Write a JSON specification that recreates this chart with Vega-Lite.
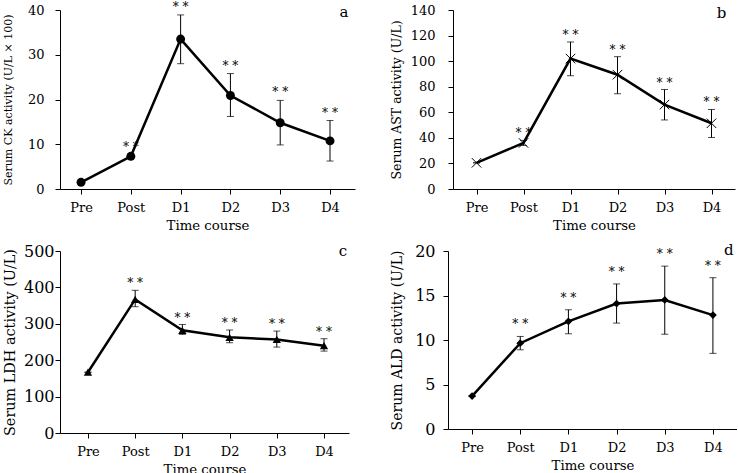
{
  "$schema": "https://vega.github.io/schema/vega-lite/v6.json",
  "background": "white",
  "padding": {"left": 2, "top": 0, "right": 0, "bottom": 0},
  "config": {
    "font": "DejaVu Serif",
    "view": {"stroke": null},
    "axis": {"domainColor": "black", "tickColor": "black", "labelColor": "black", "titleColor": "black", "grid": false, "labelFont": "DejaVu Serif", "titleFont": "DejaVu Serif", "titleFontWeight": "normal", "domainWidth": 1, "tickWidth": 1, "tickSize": 5, "labelOverlap": false},
    "axisX": {"labelAngle": 0, "labelFontSize": 13, "titleFontSize": 13.3, "titlePadding": 4, "labelPadding": 7},
    "text": {"font": "DejaVu Serif", "color": "black"}
  },
  "spacing": {"row": 11, "column": 35},
  "align": "none",
  "columns": 2,
  "concat": [
    {
      "width": 295, "height": 179,
      "data": {"values": [
        {"time": "Pre", "mean": 1.5, "lo": 1.5, "hi": 1.5, "sig": ""},
        {"time": "Post", "mean": 7.3, "lo": 6.9, "hi": 7.7, "sig": "* *"},
        {"time": "D1", "mean": 33.5, "lo": 28.0, "hi": 38.9, "sig": "* *"},
        {"time": "D2", "mean": 20.9, "lo": 16.2, "hi": 25.8, "sig": "* *"},
        {"time": "D3", "mean": 14.8, "lo": 9.85, "hi": 19.8, "sig": "* *"},
        {"time": "D4", "mean": 10.75, "lo": 6.25, "hi": 15.3, "sig": "* *"}
      ]},
      "encoding": {"x": {"field": "time", "type": "ordinal", "sort": ["Pre", "Post", "D1", "D2", "D3", "D4"], "scale": {"type": "point", "padding": 0.462, "align": 0.457}, "title": "Time course"}},
      "layer": [
        {"mark": {"type": "rule", "color": "black", "strokeWidth": 1}, "encoding": {"y": {"field": "lo", "type": "quantitative", "title": "Serum CK activity (U/L × 100)", "scale": {"domain": [0, 40], "nice": false}, "axis": {"values": [0, 10, 20, 30, 40], "format": "d", "tickCount": 50, "labelOverlap": false, "labelFontSize": 13, "labelPadding": 11, "titleFontSize": 11, "titlePadding": 14}}, "y2": {"field": "hi"}}},
        {"mark": {"type": "tick", "color": "black", "thickness": 1, "size": 7, "orient": "horizontal"}, "encoding": {"y": {"field": "hi", "type": "quantitative", "title": "Serum CK activity (U/L × 100)", "axis": {"values": [0, 10, 20, 30, 40], "format": "d", "tickCount": 50, "labelOverlap": false, "labelFontSize": 13, "labelPadding": 11, "titleFontSize": 11, "titlePadding": 14}}}},
        {"mark": {"type": "tick", "color": "black", "thickness": 1, "size": 7, "orient": "horizontal"}, "encoding": {"y": {"field": "lo", "type": "quantitative", "title": "Serum CK activity (U/L × 100)", "axis": {"values": [0, 10, 20, 30, 40], "format": "d", "tickCount": 50, "labelOverlap": false, "labelFontSize": 13, "labelPadding": 11, "titleFontSize": 11, "titlePadding": 14}}}},
        {"mark": {"type": "line", "color": "black", "strokeWidth": 2.5}, "encoding": {"y": {"field": "mean", "type": "quantitative", "title": "Serum CK activity (U/L × 100)", "axis": {"values": [0, 10, 20, 30, 40], "format": "d", "tickCount": 50, "labelOverlap": false, "labelFontSize": 13, "labelPadding": 11, "titleFontSize": 11, "titlePadding": 14}}}},
        {"mark": {"type": "point", "shape": "circle", "filled": true, "color": "black", "opacity": 1, "size": 80}, "encoding": {"y": {"field": "mean", "type": "quantitative", "title": "Serum CK activity (U/L × 100)", "axis": {"values": [0, 10, 20, 30, 40], "format": "d", "tickCount": 50, "labelOverlap": false, "labelFontSize": 13, "labelPadding": 11, "titleFontSize": 11, "titlePadding": 14}}}},
        {"mark": {"type": "text", "fontSize": 12, "dy": -8, "baseline": "middle", "color": "black"}, "encoding": {"y": {"field": "hi", "type": "quantitative", "title": "Serum CK activity (U/L × 100)", "axis": {"values": [0, 10, 20, 30, 40], "format": "d", "tickCount": 50, "labelOverlap": false, "labelFontSize": 13, "labelPadding": 11, "titleFontSize": 11, "titlePadding": 14}}, "text": {"field": "sig"}}},
        {"data": {"values": [{"label": "a"}]}, "mark": {"type": "text", "fontSize": 15, "dx": 14, "dy": 2, "baseline": "middle", "color": "black"}, "encoding": {"x": {"datum": "D4"}, "y": {"datum": 40}, "text": {"field": "label"}}}
      ]
    },
    {
      "width": 282, "height": 179,
      "data": {"values": [
        {"time": "Pre", "mean": 20.5, "lo": 20.5, "hi": 20.5, "sig": ""},
        {"time": "Post", "mean": 36, "lo": 34, "hi": 38, "sig": "* *"},
        {"time": "D1", "mean": 102, "lo": 88.6, "hi": 115, "sig": "* *"},
        {"time": "D2", "mean": 89.4, "lo": 74.5, "hi": 103.5, "sig": "* *"},
        {"time": "D3", "mean": 66, "lo": 54, "hi": 77.8, "sig": "* *"},
        {"time": "D4", "mean": 51.4, "lo": 40.3, "hi": 62.2, "sig": "* *"}
      ]},
      "encoding": {"x": {"field": "time", "type": "ordinal", "sort": ["Pre", "Post", "D1", "D2", "D3", "D4"], "scale": {"type": "point", "padding": 0.5}, "title": "Time course"}},
      "layer": [
        {"mark": {"type": "rule", "color": "black", "strokeWidth": 1}, "encoding": {"y": {"field": "lo", "type": "quantitative", "title": "Serum AST activity (U/L)", "scale": {"domain": [0, 140], "nice": false}, "axis": {"values": [0, 20, 40, 60, 80, 100, 120, 140], "format": "d", "tickCount": 50, "labelOverlap": false, "labelFontSize": 13, "labelPadding": 13, "titleFontSize": 12.5, "titlePadding": 6.7}}, "y2": {"field": "hi"}}},
        {"mark": {"type": "tick", "color": "black", "thickness": 1, "size": 7, "orient": "horizontal"}, "encoding": {"y": {"field": "hi", "type": "quantitative", "title": "Serum AST activity (U/L)", "axis": {"values": [0, 20, 40, 60, 80, 100, 120, 140], "format": "d", "tickCount": 50, "labelOverlap": false, "labelFontSize": 13, "labelPadding": 13, "titleFontSize": 12.5, "titlePadding": 6.7}}}},
        {"mark": {"type": "tick", "color": "black", "thickness": 1, "size": 7, "orient": "horizontal"}, "encoding": {"y": {"field": "lo", "type": "quantitative", "title": "Serum AST activity (U/L)", "axis": {"values": [0, 20, 40, 60, 80, 100, 120, 140], "format": "d", "tickCount": 50, "labelOverlap": false, "labelFontSize": 13, "labelPadding": 13, "titleFontSize": 12.5, "titlePadding": 6.7}}}},
        {"mark": {"type": "line", "color": "black", "strokeWidth": 2.5}, "encoding": {"y": {"field": "mean", "type": "quantitative", "title": "Serum AST activity (U/L)", "axis": {"values": [0, 20, 40, 60, 80, 100, 120, 140], "format": "d", "tickCount": 50, "labelOverlap": false, "labelFontSize": 13, "labelPadding": 13, "titleFontSize": 12.5, "titlePadding": 6.7}}}},
        {"mark": {"type": "point", "shape": "M-1,-1L1,1M1,-1L-1,1", "filled": false, "color": "black", "opacity": 1, "strokeWidth": 1, "size": 90}, "encoding": {"y": {"field": "mean", "type": "quantitative", "title": "Serum AST activity (U/L)", "axis": {"values": [0, 20, 40, 60, 80, 100, 120, 140], "format": "d", "tickCount": 50, "labelOverlap": false, "labelFontSize": 13, "labelPadding": 13, "titleFontSize": 12.5, "titlePadding": 6.7}}}},
        {"mark": {"type": "text", "fontSize": 12, "dy": -7, "baseline": "middle", "color": "black"}, "encoding": {"y": {"field": "hi", "type": "quantitative", "title": "Serum AST activity (U/L)", "axis": {"values": [0, 20, 40, 60, 80, 100, 120, 140], "format": "d", "tickCount": 50, "labelOverlap": false, "labelFontSize": 13, "labelPadding": 13, "titleFontSize": 12.5, "titlePadding": 6.7}}, "text": {"field": "sig"}}},
        {"data": {"values": [{"label": "b"}]}, "mark": {"type": "text", "fontSize": 15, "dx": 10, "dy": 3, "baseline": "middle", "color": "black"}, "encoding": {"x": {"datum": "D4"}, "y": {"datum": 140}, "text": {"field": "label"}}}
      ]
    },
    {
      "width": 289, "height": 182,
      "data": {"values": [
        {"time": "Pre", "mean": 167, "lo": 167, "hi": 167, "sig": ""},
        {"time": "Post", "mean": 367, "lo": 347, "hi": 392, "sig": "* *"},
        {"time": "D1", "mean": 282, "lo": 271, "hi": 298, "sig": "* *"},
        {"time": "D2", "mean": 263, "lo": 248, "hi": 283, "sig": "* *"},
        {"time": "D3", "mean": 257, "lo": 236, "hi": 280, "sig": "* *"},
        {"time": "D4", "mean": 240, "lo": 225, "hi": 259, "sig": "* *"}
      ]},
      "encoding": {"x": {"field": "time", "type": "ordinal", "sort": ["Pre", "Post", "D1", "D2", "D3", "D4"], "scale": {"type": "point", "padding": 0.561, "align": 0.528}, "title": "Time course"}},
      "layer": [
        {"mark": {"type": "rule", "color": "black", "strokeWidth": 1}, "encoding": {"y": {"field": "lo", "type": "quantitative", "title": "Serum LDH activity (U/L)", "scale": {"domain": [0, 500], "nice": false}, "axis": {"values": [0, 100, 200, 300, 400, 500], "format": "d", "tickCount": 50, "labelOverlap": false, "labelFontSize": 16, "labelPadding": 1, "titleFontSize": 14.4, "titlePadding": 6}}, "y2": {"field": "hi"}}},
        {"mark": {"type": "tick", "color": "black", "thickness": 1, "size": 7, "orient": "horizontal"}, "encoding": {"y": {"field": "hi", "type": "quantitative", "title": "Serum LDH activity (U/L)", "axis": {"values": [0, 100, 200, 300, 400, 500], "format": "d", "tickCount": 50, "labelOverlap": false, "labelFontSize": 16, "labelPadding": 1, "titleFontSize": 14.4, "titlePadding": 6}}}},
        {"mark": {"type": "tick", "color": "black", "thickness": 1, "size": 7, "orient": "horizontal"}, "encoding": {"y": {"field": "lo", "type": "quantitative", "title": "Serum LDH activity (U/L)", "axis": {"values": [0, 100, 200, 300, 400, 500], "format": "d", "tickCount": 50, "labelOverlap": false, "labelFontSize": 16, "labelPadding": 1, "titleFontSize": 14.4, "titlePadding": 6}}}},
        {"mark": {"type": "line", "color": "black", "strokeWidth": 2.5}, "encoding": {"y": {"field": "mean", "type": "quantitative", "title": "Serum LDH activity (U/L)", "axis": {"values": [0, 100, 200, 300, 400, 500], "format": "d", "tickCount": 50, "labelOverlap": false, "labelFontSize": 16, "labelPadding": 1, "titleFontSize": 14.4, "titlePadding": 6}}}},
        {"mark": {"type": "point", "shape": "triangle-up", "filled": true, "color": "black", "opacity": 1, "size": 70}, "encoding": {"y": {"field": "mean", "type": "quantitative", "title": "Serum LDH activity (U/L)", "axis": {"values": [0, 100, 200, 300, 400, 500], "format": "d", "tickCount": 50, "labelOverlap": false, "labelFontSize": 16, "labelPadding": 1, "titleFontSize": 14.4, "titlePadding": 6}}}},
        {"mark": {"type": "text", "fontSize": 12, "dy": -7, "baseline": "middle", "color": "black"}, "encoding": {"y": {"field": "hi", "type": "quantitative", "title": "Serum LDH activity (U/L)", "axis": {"values": [0, 100, 200, 300, 400, 500], "format": "d", "tickCount": 50, "labelOverlap": false, "labelFontSize": 16, "labelPadding": 1, "titleFontSize": 14.4, "titlePadding": 6}}, "text": {"field": "sig"}}},
        {"data": {"values": [{"label": "c"}]}, "mark": {"type": "text", "fontSize": 15, "dx": 19, "dy": 0, "baseline": "middle", "color": "black"}, "encoding": {"x": {"datum": "D4"}, "y": {"datum": 500}, "text": {"field": "label"}}}
      ]
    },
    {
      "width": 289, "height": 178,
      "data": {"values": [
        {"time": "Pre", "mean": 3.7, "lo": 3.7, "hi": 3.7, "sig": ""},
        {"time": "Post", "mean": 9.64, "lo": 8.9, "hi": 10.4, "sig": "* *"},
        {"time": "D1", "mean": 12.1, "lo": 10.7, "hi": 13.4, "sig": "* *"},
        {"time": "D2", "mean": 14.1, "lo": 11.9, "hi": 16.3, "sig": "* *"},
        {"time": "D3", "mean": 14.5, "lo": 10.65, "hi": 18.3, "sig": "* *"},
        {"time": "D4", "mean": 12.8, "lo": 8.5, "hi": 17.0, "sig": "* *"}
      ]},
      "encoding": {"x": {"field": "time", "type": "ordinal", "sort": ["Pre", "Post", "D1", "D2", "D3", "D4"], "scale": {"type": "point", "padding": 0.5}, "title": "Time course"}},
      "layer": [
        {"mark": {"type": "rule", "color": "black", "strokeWidth": 1}, "encoding": {"y": {"field": "lo", "type": "quantitative", "title": "Serum ALD activity (U/L)", "scale": {"domain": [0, 20], "nice": false}, "axis": {"values": [0, 5, 10, 15, 20], "format": "d", "tickCount": 50, "labelOverlap": false, "labelFontSize": 16, "labelPadding": 8, "titleFontSize": 14, "titlePadding": 10.6}}, "y2": {"field": "hi"}}},
        {"mark": {"type": "tick", "color": "black", "thickness": 1, "size": 7, "orient": "horizontal"}, "encoding": {"y": {"field": "hi", "type": "quantitative", "title": "Serum ALD activity (U/L)", "axis": {"values": [0, 5, 10, 15, 20], "format": "d", "tickCount": 50, "labelOverlap": false, "labelFontSize": 16, "labelPadding": 8, "titleFontSize": 14, "titlePadding": 10.6}}}},
        {"mark": {"type": "tick", "color": "black", "thickness": 1, "size": 7, "orient": "horizontal"}, "encoding": {"y": {"field": "lo", "type": "quantitative", "title": "Serum ALD activity (U/L)", "axis": {"values": [0, 5, 10, 15, 20], "format": "d", "tickCount": 50, "labelOverlap": false, "labelFontSize": 16, "labelPadding": 8, "titleFontSize": 14, "titlePadding": 10.6}}}},
        {"mark": {"type": "line", "color": "black", "strokeWidth": 2.5}, "encoding": {"y": {"field": "mean", "type": "quantitative", "title": "Serum ALD activity (U/L)", "axis": {"values": [0, 5, 10, 15, 20], "format": "d", "tickCount": 50, "labelOverlap": false, "labelFontSize": 16, "labelPadding": 8, "titleFontSize": 14, "titlePadding": 10.6}}}},
        {"mark": {"type": "point", "shape": "diamond", "filled": true, "color": "black", "opacity": 1, "size": 60}, "encoding": {"y": {"field": "mean", "type": "quantitative", "title": "Serum ALD activity (U/L)", "axis": {"values": [0, 5, 10, 15, 20], "format": "d", "tickCount": 50, "labelOverlap": false, "labelFontSize": 16, "labelPadding": 8, "titleFontSize": 14, "titlePadding": 10.6}}}},
        {"mark": {"type": "text", "fontSize": 12, "dy": -12, "baseline": "middle", "color": "black"}, "encoding": {"y": {"field": "hi", "type": "quantitative", "title": "Serum ALD activity (U/L)", "axis": {"values": [0, 5, 10, 15, 20], "format": "d", "tickCount": 50, "labelOverlap": false, "labelFontSize": 16, "labelPadding": 8, "titleFontSize": 14, "titlePadding": 10.6}}, "text": {"field": "sig"}}},
        {"data": {"values": [{"label": "d"}]}, "mark": {"type": "text", "fontSize": 15, "dx": 16, "dy": -1, "baseline": "middle", "color": "black"}, "encoding": {"x": {"datum": "D4"}, "y": {"datum": 20}, "text": {"field": "label"}}}
      ]
    }
  ]
}
